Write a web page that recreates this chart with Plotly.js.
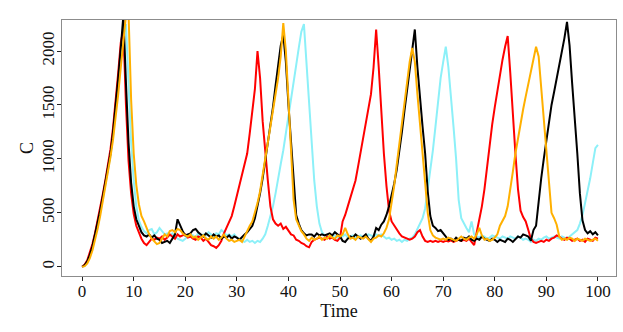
<!DOCTYPE html>
<html>
<head>
<meta charset="utf-8">
<script src="https://cdn.plot.ly/plotly-3.0.1.min.js"></script>
<style>
  html, body { margin: 0; padding: 0; background: #fff; }
  #chart { width: 623px; height: 332px; }
</style>
</head>
<body>
<div id="chart"></div>
<script>
// sample times, every 0.5
var time = [
  0,0.5,1,1.5,2,2.5,3,3.5,4,4.5,5,5.5,6,6.5,7,7.5,8,8.5,9,9.5,
  10,10.5,11,11.5,12,12.5,13,13.5,14,14.5,15,15.5,16,16.5,17,17.5,18,18.5,19,19.5,
  20,20.5,21,21.5,22,22.5,23,23.5,24,24.5,25,25.5,26,26.5,27,27.5,28,28.5,29,29.5,
  30,30.5,31,31.5,32,32.5,33,33.5,34,34.5,35,35.5,36,36.5,37,37.5,38,38.5,39,39.5,
  40,40.5,41,41.5,42,42.5,43,43.5,44,44.5,45,45.5,46,46.5,47,47.5,48,48.5,49,49.5,
  50,50.5,51,51.5,52,52.5,53,53.5,54,54.5,55,55.5,56,56.5,57,57.5,58,58.5,59,59.5,
  60,60.5,61,61.5,62,62.5,63,63.5,64,64.5,65,65.5,66,66.5,67,67.5,68,68.5,69,69.5,
  70,70.5,71,71.5,72,72.5,73,73.5,74,74.5,75,75.5,76,76.5,77,77.5,78,78.5,79,79.5,
  80,80.5,81,81.5,82,82.5,83,83.5,84,84.5,85,85.5,86,86.5,87,87.5,88,88.5,89,89.5,
  90,90.5,91,91.5,92,92.5,93,93.5,94,94.5,95,95.5,96,96.5,97,97.5,98,98.5,99,99.5,
  100
];

var cBlack = [
  0,15,50,110,190,290,400,520,650,780,
  910,1050,1250,1480,1750,2030,2330,1700,1150,780,
  560,440,370,320,290,280,300,270,290,260,
  250,220,230,240,220,260,300,440,380,330,
  290,300,310,340,350,320,300,280,310,290,
  270,300,280,290,260,280,270,290,260,280,
  270,250,280,300,320,350,380,450,560,680,
  820,980,1130,1300,1480,1680,1880,2050,2150,1900,
  1500,1150,750,480,400,340,310,290,300,300,
  280,310,290,300,290,300,310,290,320,300,
  280,240,230,260,280,270,300,280,260,280,
  300,260,240,280,360,340,390,420,480,560,
  660,770,900,1060,1250,1450,1650,1850,2050,2200,
  1850,1550,1300,1050,700,470,380,360,330,340,
  310,280,250,260,240,270,250,240,270,260,
  280,250,240,260,250,280,260,250,240,260,
  250,230,250,240,230,260,250,230,260,280,
  270,300,290,280,240,340,380,620,820,1000,
  1180,1370,1500,1620,1740,1860,1990,2120,2270,2050,
  1700,1400,1050,680,430,340,310,330,300,320,
  290
];

var cRed = [
  0,20,60,125,210,310,420,540,670,800,
  940,1090,1290,1530,1800,2080,2200,1500,980,680,
  490,380,310,260,220,200,230,260,250,270,
  260,280,250,270,300,280,260,300,280,290,
  300,270,280,260,250,280,270,240,260,230,
  200,190,175,200,240,310,360,410,470,560,
  660,760,860,960,1050,1240,1440,1650,2000,1750,
  1350,1050,800,560,440,400,380,400,350,370,
  330,300,290,250,240,220,210,190,180,230,
  250,260,270,260,250,280,260,270,250,240,
  270,420,480,560,640,720,800,930,1060,1200,
  1330,1450,1600,1850,2200,1850,1400,1050,750,520,
  420,380,350,310,280,270,260,250,260,280,
  320,340,280,240,230,240,230,240,230,240,
  230,240,235,245,230,240,250,240,250,240,
  260,230,200,320,430,560,720,920,1150,1320,
  1480,1640,1790,1920,2040,2140,1800,1400,1050,720,
  520,460,420,340,260,230,220,230,240,230,
  250,240,260,270,290,280,260,250,270,260,
  240,250,260,240,250,230,260,250,240,270,
  260
];

var cOrange = [
  0,5,30,80,150,240,350,470,600,740,
  880,1020,1180,1370,1600,1850,2100,2330,2350,1550,
  1050,760,580,470,420,360,300,260,230,210,
  220,260,300,280,330,340,320,350,340,310,
  290,280,300,270,280,250,270,290,260,250,
  280,260,280,250,270,300,260,240,250,230,
  240,250,230,280,340,380,420,500,590,700,
  850,1000,1150,1300,1430,1560,1750,1950,2260,2000,
  1550,1050,620,440,380,330,300,260,240,270,
  250,260,280,250,270,260,290,270,260,290,
  280,300,360,300,260,270,250,280,270,260,
  280,250,230,260,270,290,280,310,360,440,
  580,750,950,1150,1350,1550,1750,1900,2030,1900,
  1600,1300,1000,780,500,340,290,270,260,250,
  260,250,270,260,250,240,260,280,260,250,
  270,280,260,300,360,290,250,260,240,250,
  270,300,380,420,470,560,700,880,1050,1200,
  1340,1460,1580,1700,1820,1930,2040,1950,1650,1370,
  1100,780,500,450,390,280,250,260,250,270,
  260,240,260,250,240,260,250,240,250,260,
  240
];

var cCyan = [
  0,10,45,100,175,270,380,500,630,760,
  890,1030,1220,1440,1700,1950,2150,2250,1700,1150,
  800,560,430,370,330,310,340,350,300,320,
  360,330,300,310,290,310,280,260,250,240,
  260,280,300,290,270,310,280,300,290,320,
  300,280,310,300,340,320,290,300,280,300,
  270,260,240,230,250,230,240,220,240,230,
  260,300,380,460,560,680,800,950,1080,1230,
  1400,1550,1700,1870,2030,2180,2250,1900,1500,1100,
  800,560,400,320,290,280,300,280,290,270,
  290,280,300,270,280,290,270,280,290,270,
  280,300,290,280,300,290,300,280,260,270,
  250,260,240,250,230,250,240,260,270,300,
  350,400,450,540,720,880,1080,1300,1530,1750,
  1900,2040,1850,1600,1300,1000,620,450,400,360,
  320,420,300,280,270,290,280,260,270,290,
  280,270,260,280,270,260,280,270,260,280,
  270,250,260,250,230,250,240,260,250,270,
  280,260,270,280,270,260,280,270,260,280,
  300,320,340,400,480,590,700,820,960,1100,
  1130
];

var xTicks = [0, 10, 20, 30, 40, 50, 60, 70, 80, 90, 100];
var yTicks = [0, 500, 1000, 1500, 2000];

var serif = 'Liberation Serif, Times New Roman, serif';

function run(y, color) {
    return {
        x: time,
        y: y,
        mode: 'lines',
        line: {color: color, width: 2},
        hoverinfo: 'skip',
        showlegend: false
    };
}

var data = [
    run(cCyan, '#8cf0f8'),
    run(cRed, '#ff0000'),
    run(cBlack, '#000000'),
    run(cOrange, '#ffb000')
];

var axisStyle = {
    showgrid: false,
    zeroline: false,
    showline: true,
    mirror: true,
    linecolor: '#8c8c8c',
    linewidth: 1,
    ticks: 'outside',
    ticklen: 4,
    tickwidth: 1,
    tickcolor: '#222',
    tickfont: {family: serif, size: 17, color: '#111'}
};

var layout = {
    width: 623,
    height: 332,
    margin: {l: 62, r: 7, t: 20, b: 56},
    paper_bgcolor: '#fff',
    plot_bgcolor: '#fff',
    xaxis: Object.assign({}, axisStyle, {
        range: [-3.9, 103.5],
        tickvals: xTicks,
        ticklabelstandoff: -4,
        title: {text: 'Time', font: {family: serif, size: 18, color: '#111'}, standoff: 0}
    }),
    yaxis: Object.assign({}, axisStyle, {
        range: [-86, 2288],
        tickvals: yTicks,
        tickangle: -90,
        ticklabelstandoff: -4,
        title: {text: 'C', font: {family: serif, size: 18, color: '#111'}, standoff: 0}
    })
};

Plotly.newPlot('chart', data, layout, {displayModeBar: false, staticPlot: true});
</script>
</body>
</html>
